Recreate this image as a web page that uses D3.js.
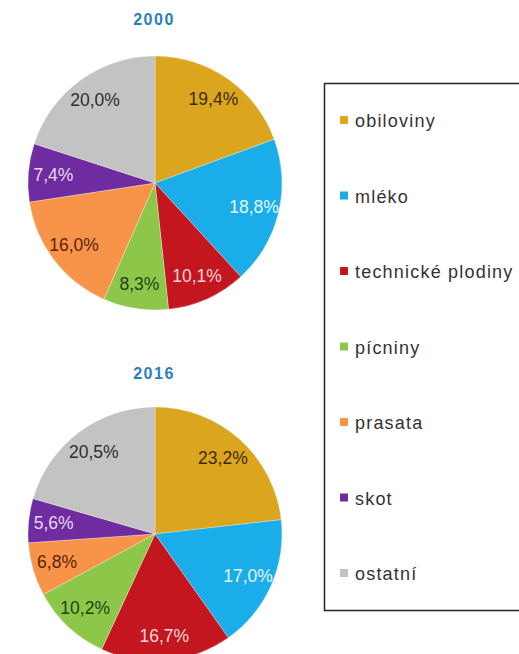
<!DOCTYPE html>
<html><head><meta charset="utf-8">
<script src="https://cdn.jsdelivr.net/npm/d3@7"></script>
<style>html,body{margin:0;padding:0;background:#fff;}svg{display:block;}</style>
</head><body>
<svg id="c" width="519" height="654"></svg>
<script>
const categories = ["obiloviny","mléko","technické plodiny","pícniny","prasata","skot","ostatní"];
const years = ["2000","2016"];
const values2000 = [19.4,18.8,10.1,8.3,16.0,7.4,20.0];
const values2016 = [23.2,17.0,16.7,10.2,6.8,5.6,20.5];
const colors = ["#DBA61E","#1AADE9","#C4161F","#8DC74A","#F7944A","#6E2CA0","#C3C3C3"];
const labelColors = ["#3d2a00","#e4f7ff","#fbd6da","#1d4410","#5a2400","#e6d8f2","#2e2e2e"];

const svg = d3.select("#c");
const R = 127;
const pies = [
  {year: years[0], values: values2000, cx: 155, cy: 183, ty: 19},
  {year: years[1], values: values2016, cx: 155, cy: 534, ty: 373}
];
const pie = d3.pie().sort(null).value(d => d);
const arc = d3.arc().innerRadius(0).outerRadius(R);
const labelArc = d3.arc().innerRadius(102).outerRadius(102);
const fmt = v => d3.format(".1f")(v).replace(".", ",") + "%";
const FONT = "Liberation Sans, Arial, sans-serif";

pies.forEach(p => {
  svg.append("text").attr("x", p.cx - 1).attr("y", p.ty)
    .attr("text-anchor","middle").attr("dominant-baseline","central")
    .attr("font-family", FONT).attr("letter-spacing", 1.5)
    .attr("font-size", 16).attr("font-weight","bold").attr("fill","#2a7fbf")
    .text(p.year);
  const g = svg.append("g").attr("transform", `translate(${p.cx},${p.cy})`);
  const arcs = pie(p.values);
  g.selectAll("path").data(arcs).enter().append("path")
    .attr("d", arc).attr("fill", (d,i) => colors[i])
    .attr("stroke", "#ffffff").attr("stroke-width", 0.6).attr("stroke-opacity", 0.5);
  g.selectAll("text").data(arcs).enter().append("text")
    .attr("transform", d => `translate(${labelArc.centroid(d)})`)
    .attr("text-anchor","middle").attr("dominant-baseline","central")
    .attr("font-family", FONT)
    .attr("font-size", 17.5).attr("fill", (d,i) => labelColors[i])
    .text(d => fmt(d.data));
});

// legend
const lx = 324, ly = 83, lw = 220, lh = 527;
svg.append("rect").attr("x", lx + 0.5).attr("y", ly + 0.5).attr("width", lw).attr("height", lh)
  .attr("fill","#fff").attr("stroke","#222").attr("stroke-width",1.5);
const ys = d3.scalePoint().domain(categories).range([121, 574]);
const lg = svg.append("g");
categories.forEach((c,i) => {
  lg.append("rect").attr("x", 340).attr("y", ys(c) - 5).attr("width", 8).attr("height", 8).attr("fill", colors[i]);
  lg.append("text").attr("x", 355).attr("y", ys(c)).attr("dominant-baseline","central")
    .attr("font-family", FONT).attr("font-size", 18).attr("letter-spacing", 1.2)
    .attr("fill","#333").text(c);
});
</script>
</body></html>
